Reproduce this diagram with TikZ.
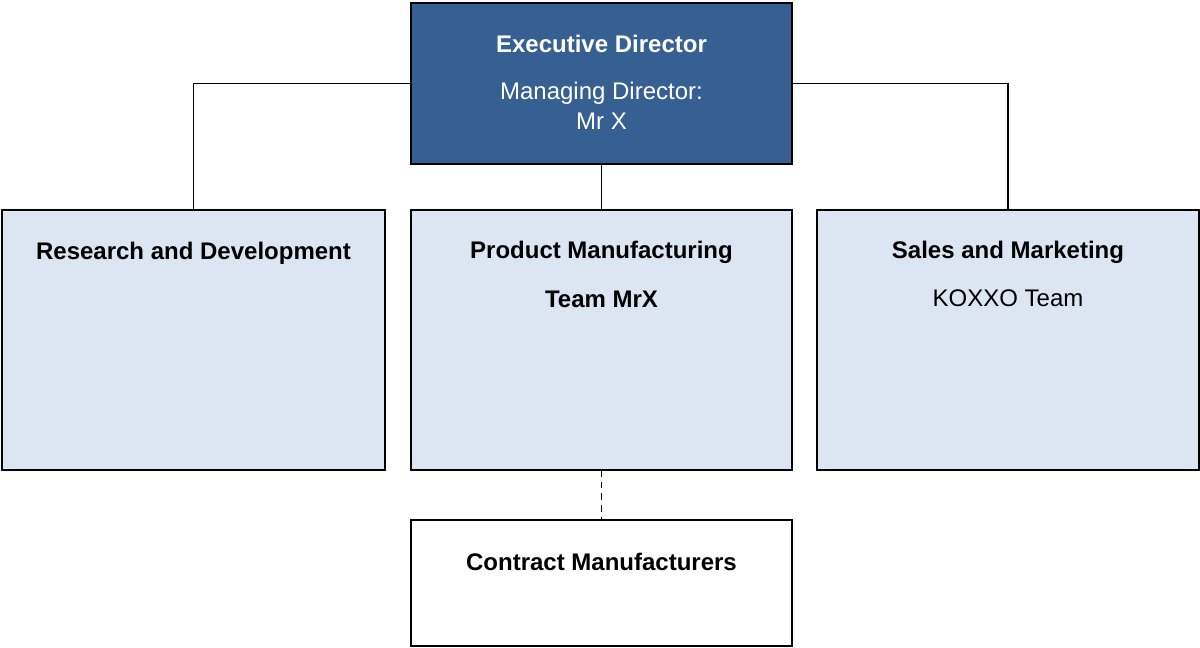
\documentclass[tikz,border=0pt]{standalone}
\usepackage{fontspec}
\setmainfont{Liberation Sans}
\usepackage{xcolor}
\definecolor{execblue}{HTML}{376092}
\definecolor{unitblue}{HTML}{DCE6F2}
\tikzset{
  box/.style={draw=black,line width=1pt,minimum width=#1,inner sep=0pt,outer sep=0pt},
  head/.style={font=\fontsize{14.4}{17}\selectfont\bfseries,inner sep=0pt},
  sub/.style={font=\fontsize{14.4}{18}\selectfont,inner sep=0pt,align=center},
  link/.style={draw=black,line width=1pt}
}

\begin{document}
\begin{tikzpicture}[x=0.6pt,y=-0.6pt]
    \useasboundingbox (0,0) rectangle (1200,648);
    % boxes
    \node[box=228.6pt,minimum height=96.6pt,fill=execblue] (exec) at (601.5,83.5) {};
    \node[box=229.8pt,minimum height=156pt,fill=unitblue] (rd) at (193.5,340) {};
    \node[box=228.6pt,minimum height=156pt,fill=unitblue] (pm) at (601.5,340) {};
    \node[box=229.2pt,minimum height=156pt,fill=unitblue] (sm) at (1008,340) {};
    \node[box=228.6pt,minimum height=75.6pt,fill=white] (cm) at (601.5,583) {};
    % texts
    \node[head,text=white] (exectitle) at (601.5,44) {Executive Director};
    \node[sub,text=white] (execname) at (601.5,106) {Managing Director:\\Mr X};
    \node[head] (rdtitle) at (193.5,253) {Research and Development};
    \node[head] (pmtitle) at (601.5,252) {Product Manufacturing};
    \node[head] (pmteam) at (601.5,299) {Team MrX};
    \node[head] (smtitle) at (1008,252) {Sales and Marketing};
    \node[sub] (smteam) at (1008,298) {KOXXO Team};
    \node[head] (cmtitle) at (601.5,562) {Contract Manufacturers};
    % connectors
    \draw[link] (exec.west) -| (rd.north);
    \draw[link] (exec.east) -| (sm.north);
    \draw[link] (exec.south) -- (pm.north);
    \draw[link,dash pattern=on 4pt off 3pt] (pm.south) -- (cm.north);
\end{tikzpicture}
\end{document}
